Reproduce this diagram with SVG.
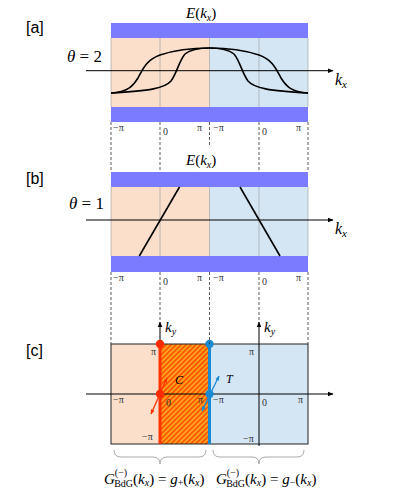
<svg xmlns="http://www.w3.org/2000/svg" width="419" height="494" viewBox="0 0 419 494">
<style>
.lab{font-family:"Liberation Sans",Arial,sans-serif;font-size:16px;fill:#000}
.m{font-family:"Liberation Serif","Times New Roman",serif;fill:#000}
.it{font-style:italic}
.tick{font-family:"Liberation Serif","Times New Roman",serif;font-size:10px;fill:#333}
.bar{fill:#7b7bff}
.or{fill:#fbdfca}
.bl{fill:#d4e5f4}
.grid{stroke:#9a9a9a;stroke-opacity:0.6;stroke-width:1}
.dash{stroke:#333;stroke-width:0.8;stroke-dasharray:3,2;fill:none}
.axis{stroke:#000;stroke-width:1;fill:none}
.curve{stroke:#000;stroke-width:1.6;fill:none}
.brace{stroke:#aaa;stroke-width:1;fill:none}
</style>
<defs>
<marker id="ah" viewBox="0 0 10 10" refX="9" refY="5" markerWidth="6" markerHeight="6" orient="auto-start-reverse" markerUnits="userSpaceOnUse"><path d="M0,1 L10,5 L0,9 Z" fill="#000"/></marker>
<marker id="ahr" viewBox="0 0 10 10" refX="9" refY="5" markerWidth="5" markerHeight="5" orient="auto-start-reverse" markerUnits="userSpaceOnUse"><path d="M0,1 L10,5 L0,9 Z" fill="#ff3300"/></marker>
<marker id="ahb" viewBox="0 0 10 10" refX="9" refY="5" markerWidth="5" markerHeight="5" orient="auto-start-reverse" markerUnits="userSpaceOnUse"><path d="M0,1 L10,5 L0,9 Z" fill="#1a8ad4"/></marker>
<pattern id="hatch" width="3.5" height="3.5" patternUnits="userSpaceOnUse" patternTransform="rotate(45)">
<rect width="3.5" height="3.5" fill="#ffa31a"/>
<rect width="1.5" height="3.5" fill="#ff4a00"/>
</pattern>
</defs>

<!-- Panel a -->
<g id="panel-a">
<text class="lab" x="26" y="33">[a]</text>
<text class="m" x="186" y="18" font-size="15"><tspan class="it">E</tspan>(<tspan class="it">k</tspan><tspan class="it" font-size="10" dy="3">x</tspan><tspan dy="-3">)</tspan></text>
<rect class="or" x="111" y="38" width="98.5" height="69"/>
<rect class="bl" x="209.5" y="38" width="98.5" height="69"/>
<line class="grid" x1="111" y1="38" x2="111" y2="107"/>
<line class="grid" x1="160" y1="38" x2="160" y2="107"/>
<line class="grid" x1="209.5" y1="38" x2="209.5" y2="107"/>
<line class="grid" x1="259" y1="38" x2="259" y2="107"/>
<line class="grid" x1="308" y1="38" x2="308" y2="107"/>
<rect class="bar" x="111" y="23" width="197" height="15"/>
<rect class="bar" x="111" y="107" width="197" height="15"/>
<text class="m" x="67" y="62" font-size="17"><tspan class="it">θ</tspan> = 2</text>
<path class="curve" d="M111,93 C128,92 133,86 138,78 C143,69 146,60 160,55 C175,50 195,48 209.5,48"/>
<path class="curve" d="M111,93 C150,91 165,88 171,81 C177,73 179,61 185,54 C191,49 200,48 209.5,48"/>
<g transform="translate(419,0) scale(-1,1)">
<path class="curve" d="M111,93 C128,92 133,86 138,78 C143,69 146,60 160,55 C175,50 195,48 209.5,48"/>
<path class="curve" d="M111,93 C150,91 165,88 171,81 C177,73 179,61 185,54 C191,49 200,48 209.5,48"/>
</g>
<line class="axis" x1="86" y1="70.7" x2="333" y2="70.7" marker-end="url(#ah)"/>
<text class="m" x="335" y="85" font-size="16"><tspan class="it">k</tspan><tspan class="it" font-size="11" dy="3">x</tspan></text>
<text class="tick" x="113" y="131">−π</text>
<text class="tick" x="163" y="135">0</text>
<text class="tick" x="197" y="131">π</text>
<text class="tick" x="213" y="131">−π</text>
<text class="tick" x="262" y="135">0</text>
<text class="tick" x="296" y="131">π</text>
</g>

<!-- Panel b -->
<g id="panel-b">
<text class="lab" x="26" y="184">[b]</text>
<text class="m" x="186" y="165" font-size="15"><tspan class="it">E</tspan>(<tspan class="it">k</tspan><tspan class="it" font-size="10" dy="3">x</tspan><tspan dy="-3">)</tspan></text>
<rect class="or" x="111" y="187" width="98.5" height="69"/>
<rect class="bl" x="209.5" y="187" width="98.5" height="69"/>
<line class="grid" x1="111" y1="187" x2="111" y2="256"/>
<line class="grid" x1="160" y1="187" x2="160" y2="256"/>
<line class="grid" x1="209.5" y1="187" x2="209.5" y2="256"/>
<line class="grid" x1="259" y1="187" x2="259" y2="256"/>
<line class="grid" x1="308" y1="187" x2="308" y2="256"/>
<rect class="bar" x="111" y="172" width="197" height="15"/>
<rect class="bar" x="111" y="256" width="197" height="16"/>
<text class="m" x="69" y="209" font-size="17"><tspan class="it">θ</tspan> = 1</text>
<line class="curve" x1="139.3" y1="256" x2="179.5" y2="187"/>
<line class="curve" x1="240" y1="187" x2="280" y2="256"/>
<line class="axis" x1="86" y1="220" x2="333" y2="220" marker-end="url(#ah)"/>
<text class="m" x="335" y="234" font-size="16"><tspan class="it">k</tspan><tspan class="it" font-size="11" dy="3">x</tspan></text>
<text class="tick" x="113" y="281">−π</text>
<text class="tick" x="163" y="285">0</text>
<text class="tick" x="197" y="281">π</text>
<text class="tick" x="213" y="281">−π</text>
<text class="tick" x="262" y="285">0</text>
<text class="tick" x="296" y="281">π</text>
</g>

<!-- Panel c -->
<g id="panel-c">
<text class="lab" x="26" y="356">[c]</text>
<rect class="or" x="111" y="344" width="49" height="100"/>
<rect fill="url(#hatch)" x="160" y="344" width="49.5" height="100"/>
<rect class="bl" x="209.5" y="344" width="98.5" height="100"/>
<rect x="111" y="344" width="197" height="100" fill="none" stroke="#222" stroke-width="1"/>
<line class="axis" x1="86" y1="394" x2="333" y2="394" marker-end="url(#ah)"/>
<line class="axis" x1="160" y1="444" x2="160" y2="322" marker-end="url(#ah)"/>
<line class="axis" x1="259" y1="446" x2="259" y2="322" marker-end="url(#ah)"/>
<line x1="160" y1="344" x2="160" y2="444" stroke="#ff3300" stroke-width="3"/>
<line x1="209.5" y1="344" x2="209.5" y2="444" stroke="#1a8ad4" stroke-width="3"/>
<line x1="151" y1="414" x2="167" y2="378" stroke="#ff3300" stroke-width="1.3" marker-start="url(#ahr)" marker-end="url(#ahr)"/>
<line x1="202" y1="411" x2="219" y2="376" stroke="#1a8ad4" stroke-width="1.3" marker-start="url(#ahb)" marker-end="url(#ahb)"/>
<circle cx="160" cy="344" r="4.2" fill="#ff2a00"/>
<circle cx="160" cy="394" r="4.2" fill="#ff2a00"/>
<circle cx="209.5" cy="344" r="4.2" fill="#1a8ad4"/>
<circle cx="209.5" cy="394" r="4.2" fill="#1a8ad4"/>
<text class="m it" x="175" y="384" font-size="12">C</text>
<text class="m it" x="226" y="383" font-size="12">T</text>
<text class="m" x="165" y="332" font-size="15"><tspan class="it">k</tspan><tspan class="it" font-size="10" dy="3">y</tspan></text>
<text class="m" x="264" y="332" font-size="15"><tspan class="it">k</tspan><tspan class="it" font-size="10" dy="3">y</tspan></text>
<text class="tick" x="151" y="355">π</text>
<text class="tick" x="249" y="355">π</text>
<text class="tick" x="113" y="403">−π</text>
<text class="tick" x="166" y="406">0</text>
<text class="tick" x="198" y="403">π</text>
<text class="tick" x="213" y="403">−π</text>
<text class="tick" x="262" y="406">0</text>
<text class="tick" x="298" y="403">π</text>
<text class="tick" x="142" y="440">−π</text>
<text class="tick" x="243" y="442">−π</text>
</g>

<!-- Connectors: dashed guide lines and braces -->
<g id="connectors">
<line class="dash" x1="111" y1="122" x2="111" y2="172"/>
<line class="dash" x1="160" y1="122" x2="160" y2="172"/>
<line class="dash" x1="209.5" y1="122" x2="209.5" y2="147"/>
<line class="dash" x1="259" y1="122" x2="259" y2="172"/>
<line class="dash" x1="308" y1="122" x2="308" y2="172"/>
<line class="dash" x1="111" y1="272" x2="111" y2="344"/>
<line class="dash" x1="160" y1="272" x2="160" y2="322"/>
<line class="dash" x1="209.5" y1="272" x2="209.5" y2="344"/>
<line class="dash" x1="259" y1="272" x2="259" y2="322"/>
<line class="dash" x1="308" y1="272" x2="308" y2="344"/>
<path class="brace" d="M114,450 Q114,457 121,457 L153,457 Q160,457 160,464 Q160,457 167,457 L199,457 Q206,457 206,450"/>
<path class="brace" d="M213,450 Q213,457 220,457 L252,457 Q259,457 259,464 Q259,457 266,457 L297,457 Q304,457 304,450"/>
</g>

<g id="labels-c">
<text class="m" x="104" y="484" font-size="15"><tspan class="it">G</tspan><tspan font-size="10" dy="-8">(−)</tspan><tspan font-size="10" dx="-13" dy="11">BdG</tspan><tspan dy="-3">(</tspan><tspan class="it">k</tspan><tspan class="it" font-size="10" dy="2">x</tspan><tspan dy="-2">) = </tspan><tspan class="it">g</tspan><tspan font-size="10" dy="2">+</tspan><tspan dy="-2">(</tspan><tspan class="it">k</tspan><tspan class="it" font-size="10" dy="2">x</tspan><tspan dy="-2">)</tspan></text>
<text class="m" x="216" y="484" font-size="15"><tspan class="it">G</tspan><tspan font-size="10" dy="-8">(−)</tspan><tspan font-size="10" dx="-13" dy="11">BdG</tspan><tspan dy="-3">(</tspan><tspan class="it">k</tspan><tspan class="it" font-size="10" dy="2">x</tspan><tspan dy="-2">) = </tspan><tspan class="it">g</tspan><tspan font-size="10" dy="2">−</tspan><tspan dy="-2">(</tspan><tspan class="it">k</tspan><tspan class="it" font-size="10" dy="2">x</tspan><tspan dy="-2">)</tspan></text>
</g>
</svg>
